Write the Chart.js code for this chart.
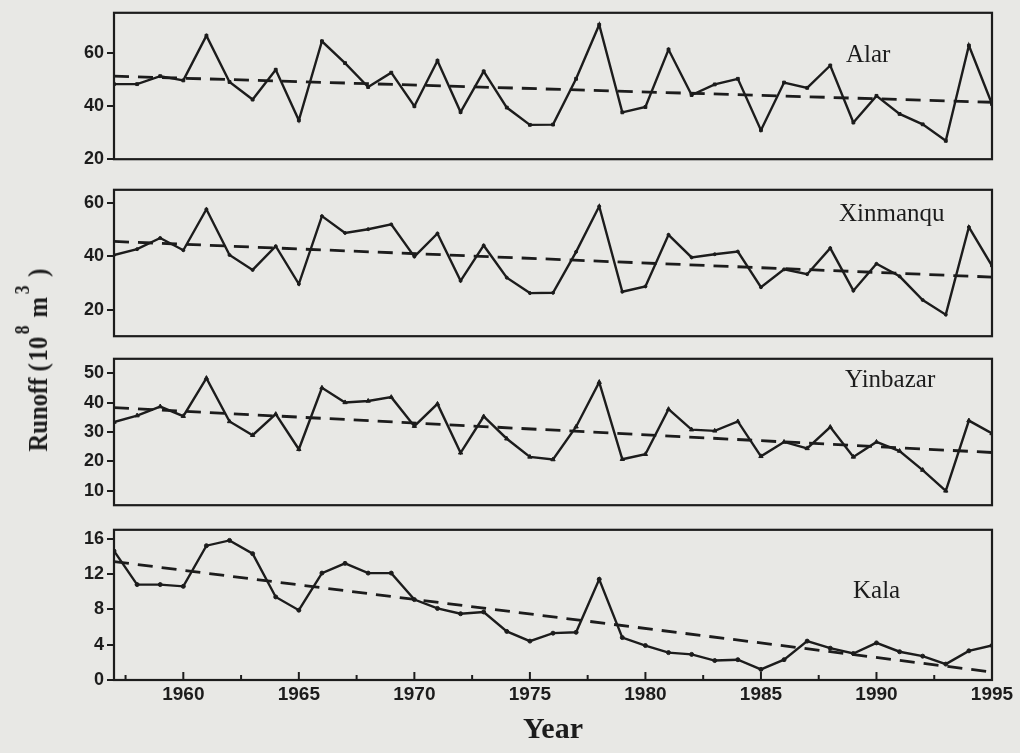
<!DOCTYPE html>
<html><head><meta charset="utf-8">
<script src="https://cdn.jsdelivr.net/npm/chart.js@4.4.1/dist/chart.umd.min.js"></script>
<style>
html,body{margin:0;padding:0;background:#e8e8e5;width:1020px;height:753px;overflow:hidden;position:relative}
canvas{position:absolute;left:0}
.lbl{position:absolute;font-family:"Liberation Serif","Times New Roman",serif;font-size:25px;line-height:25px;color:#1c1c1c;white-space:nowrap}
#ytitle{position:absolute;left:37px;top:360px;transform:translate(-50%,-50%) rotate(-90deg) scaleX(0.88);font-family:"Liberation Serif","Times New Roman",serif;font-weight:bold;font-size:28px;line-height:28px;color:#1c1c1c;white-space:nowrap}
#ytitle span{display:inline-block}
#ytitle .sp{display:inline-block;font-size:20px;line-height:0;vertical-align:18px}
</style></head><body>
<canvas id="c1" width="1020" height="174" style="top:-1px"></canvas>
<canvas id="c2" width="1020" height="174" style="top:176px"></canvas>
<canvas id="c3" width="1020" height="174" style="top:345px"></canvas>
<canvas id="c4" width="1020" height="237" style="top:516px"></canvas>
<div class="lbl" style="left:846px;top:41px">Alar</div>
<div class="lbl" style="left:839px;top:200px">Xinmanqu</div>
<div class="lbl" style="left:845px;top:366px">Yinbazar</div>
<div class="lbl" style="left:853px;top:577px">Kala</div>
<div id="ytitle"><span>Runoff</span><span style="margin-left:7px">(</span><span style="margin-left:2px">10</span><span class="sp" style="margin-left:3px">8</span><span style="margin-left:9px">m</span><span class="sp" style="margin-left:3px">3</span><span style="margin-left:10px">)</span></div>
<script>
const years = [1957,1958,1959,1960,1961,1962,1963,1964,1965,1966,1967,1968,1969,1970,1971,1972,1973,1974,1975,1976,1977,1978,1979,1980,1981,1982,1983,1984,1985,1986,1987,1988,1989,1990,1991,1992,1993,1994,1995];
const alar = [48.2,48.2,51.2,49.6,66.4,49.0,42.4,53.6,34.6,64.3,56.1,47.1,52.5,39.9,57.0,37.7,53.0,39.4,32.9,33.0,50.2,70.5,37.6,39.6,61.2,44.1,48.1,50.2,30.9,48.8,46.8,55.2,33.8,43.8,37.0,33.1,26.9,62.7,40.7];
const xinmanqu = [40.5,42.7,46.9,42.3,57.7,40.5,34.9,43.8,29.6,55.1,48.8,50.2,52.0,39.9,48.6,30.8,44.1,32.0,26.2,26.3,41.7,58.8,26.7,28.7,48.1,39.6,40.8,41.8,28.4,35.1,33.3,43.1,27.1,37.2,32.5,23.6,18.1,51.0,36.4];
const yinbazar = [33.4,35.6,38.7,35.4,48.4,33.6,28.9,36.1,24.1,45.1,40.1,40.6,41.9,32.0,39.6,22.9,35.3,27.7,21.5,20.6,31.8,47.0,20.7,22.4,37.8,30.8,30.4,33.6,21.7,26.6,24.4,31.7,21.5,26.6,23.5,17.0,9.9,33.9,29.5];
const kala = [14.6,10.8,10.8,10.6,15.2,15.8,14.3,9.4,7.9,12.1,13.2,12.1,12.1,9.1,8.1,7.5,7.7,5.5,4.4,5.3,5.4,11.4,4.8,3.9,3.1,2.9,2.2,2.3,1.2,2.3,4.4,3.6,3.0,4.2,3.2,2.7,1.8,3.3,3.9];
const trendYears = [1957,1995];
const alarTrend = [51.2,41.4];
const xinmanquTrend = [45.6,32.2];
const yinbazarTrend = [38.3,23.0];
const kalaTrend = [13.4,0.9];
const alarTicks = [20,40,60];
const xinmanquTicks = [20,40,60];
const yinbazarTicks = [10,20,30,40,50];
const kalaTicks = [0,4,8,12,16];
const xTicks = [1960,1965,1970,1975,1980,1985,1990,1995];
const xMinorTicks = [1957.5,1960,1962.5,1965,1967.5,1970,1972.5,1975,1977.5,1980,1982.5,1985,1987.5,1990,1992.5];

const INK = '#1c1c1c';
const boxPlugin = {
  id: 'box',
  afterDatasetsDraw(chart) {
    const {ctx, chartArea: a} = chart;
    ctx.save();
    ctx.strokeStyle = INK; ctx.lineWidth = 2.2;
    ctx.strokeRect(a.left, a.top, a.right - a.left, a.bottom - a.top);
    ctx.restore();
  }
};
const inwardTicks = {
  id: 'inwardTicks',
  afterDatasetsDraw(chart) {
    const {ctx, chartArea: a} = chart;
    const xs = chart.scales.x;
    ctx.save();
    ctx.strokeStyle = INK; ctx.lineWidth = 2;
    xMinorTicks.forEach(v => {
      const px = xs.getPixelForValue(v);
      const len = (v % 5 === 0) ? 8 : 5;
      ctx.beginPath(); ctx.moveTo(px, a.bottom); ctx.lineTo(px, a.bottom - len); ctx.stroke();
    });
    ctx.restore();
  }
};

function pts(xs, ys) { return xs.map((x, i) => ({x: x, y: ys[i]})); }

function makeChart(id, values, trend, yMin, yMax, yTicks, pStyle, pRadius, bottom) {
  const plugins = [boxPlugin];
  if (bottom) plugins.push(inwardTicks);
  new Chart(document.getElementById(id), {
    type: 'line',
    data: {
      datasets: [
        {data: pts(years, values), borderColor: INK, backgroundColor: INK, borderWidth: 2.4,
         pointStyle: pStyle, pointRadius: pRadius, pointBorderWidth: 1, tension: 0},
        {data: pts(trendYears, trend), borderColor: INK, borderWidth: 2.8, borderDash: [15, 9],
         pointRadius: 0, tension: 0}
      ]
    },
    options: {
      responsive: false, animation: false, devicePixelRatio: 1,
      layout: {padding: {left: 0, right: 28, top: 10, bottom: bottom ? 0 : 10}},
      plugins: {legend: {display: false}, tooltip: {enabled: false}},
      scales: {
        x: {
          type: 'linear', min: 1957, max: 1995, display: bottom,
          afterBuildTicks(s) { s.ticks = xTicks.map(v => ({value: v})); },
          afterFit(s) { if (bottom) s.height = 73; },
          grid: {display: false, drawTicks: false},
          border: {display: false},
          ticks: {padding: 3, color: INK, font: {family: 'Liberation Sans', weight: 'bold', size: 19}, maxRotation: 0,
                  callback: v => String(v)},
          title: {display: true, text: 'Year', color: INK, padding: {top: 0, bottom: 5},
                  font: {family: 'Liberation Serif', weight: 'bold', size: 30}}
        },
        y: {
          min: yMin, max: yMax,
          afterBuildTicks(s) { s.ticks = yTicks.map(v => ({value: v})); },
          afterFit(s) { s.width = 114; },
          grid: {display: true, drawOnChartArea: false, drawTicks: true, tickLength: 7, color: INK, lineWidth: 2},
          border: {display: false},
          ticks: {padding: 3, color: INK, font: {family: 'Liberation Sans', weight: 'bold', size: 18}}
        }
      }
    },
    plugins: plugins
  });
}

makeChart('c1', alar, alarTrend, 20, 75, alarTicks, 'rect', 2, false);
makeChart('c2', xinmanqu, xinmanquTrend, 10, 65, xinmanquTicks, 'circle', 1.5, false);
makeChart('c3', yinbazar, yinbazarTrend, 5, 55, yinbazarTicks, 'triangle', 2.5, false);
makeChart('c4', kala, kalaTrend, 0, 17, kalaTicks, 'circle', 2, true);
</script>
</body></html>
